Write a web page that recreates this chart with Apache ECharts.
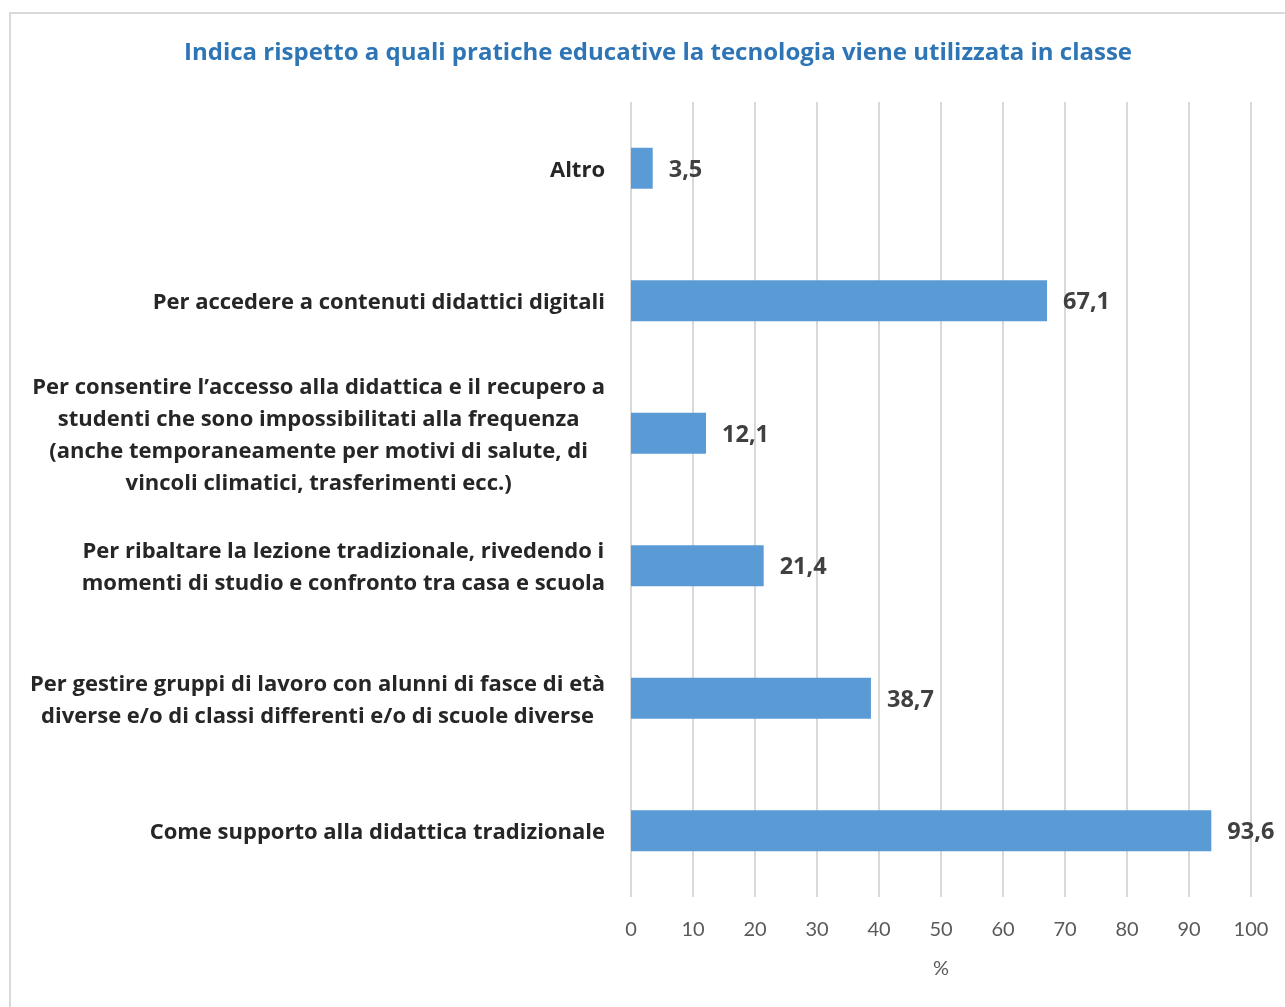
<!DOCTYPE html>
<html>
<head>
<meta charset="utf-8">
<script src="https://cdn.jsdelivr.net/npm/echarts@6/dist/echarts.min.js"></script>
<style>
html,body{margin:0;padding:0;background:#fff;}
#frame{position:absolute;left:9px;top:12px;width:1300px;height:1010px;border:2px solid #d9d9d9;box-sizing:border-box;}
#chart{position:absolute;left:0;top:0;width:1285px;height:1007px;}
</style>
</head>
<body>
<div id="frame"></div>
<div id="chart"></div>
<script>
const titleText = 'Indica rispetto a quali pratiche educative la tecnologia viene utilizzata in classe';
const categories = [
  'Altro',
  'Per accedere a contenuti didattici digitali',
  'Per consentire l\u2019accesso alla didattica e il recupero a\nstudenti che sono impossibilitati alla frequenza\n(anche temporaneamente per motivi di salute, di\nvincoli climatici, trasferimenti ecc.)',
  'Per ribaltare la lezione tradizionale, rivedendo i\nmomenti di studio e confronto tra casa e scuola',
  'Per gestire gruppi di lavoro con alunni di fasce di et\u00e0\ndiverse e/o di classi differenti e/o di scuole diverse',
  'Come supporto alla didattica tradizionale'
];
const values = [3.5, 67.1, 12.1, 21.4, 38.7, 93.6];
const axisName = '%';

const chart = echarts.init(document.getElementById('chart'), null, {renderer: 'canvas'});
const FONT = 'Open Sans';
chart.setOption({
  backgroundColor: 'transparent',
  animation: false,
  title: {
    text: titleText,
    left: 653, top: 36, textAlign: 'center',
    textStyle: {fontFamily: FONT, fontSize: 24, fontWeight: 'bold', color: '#2E75B6'}
  },
  grid: {left: 631, right: 34, top: 102, bottom: 110, containLabel: false},
  xAxis: {
    type: 'value', min: 0, max: 100, interval: 10,
    name: axisName, nameLocation: 'middle', nameGap: 62,
    nameTextStyle: {fontFamily: 'Lato', fontSize: 20, color: '#595959'},
    axisLine: {show: false}, axisTick: {show: false},
    axisLabel: {fontFamily: 'Lato', fontSize: 20, color: '#595959', margin: 23},
    splitLine: {show: true, lineStyle: {color: '#d9d9d9', width: 2}}
  },
  yAxis: {
    type: 'category', data: categories, inverse: true,
    axisLine: {show: false}, axisTick: {show: false},
    axisLabel: {
      margin: 26,
      formatter: v => v.split('\n').map(l => '{c|' + l + '}').join('\n'),
      rich: {c: {fontFamily: FONT, fontSize: 22, fontWeight: 'bold', color: '#262626', lineHeight: 32, align: 'center', padding: [4, 0, 0, 0]}}
    }
  },
  series: [{
    type: 'bar', data: values, barWidth: 41,
    itemStyle: {color: '#5B9BD5'},
    label: {
      show: true, position: 'right', distance: 16, offset: [0, 2],
      formatter: p => String(p.value).replace('.', ','),
      fontFamily: FONT, fontSize: 23.5, fontWeight: 'bold', color: '#404040'
    }
  }]
});
</script>
</body>
</html>
